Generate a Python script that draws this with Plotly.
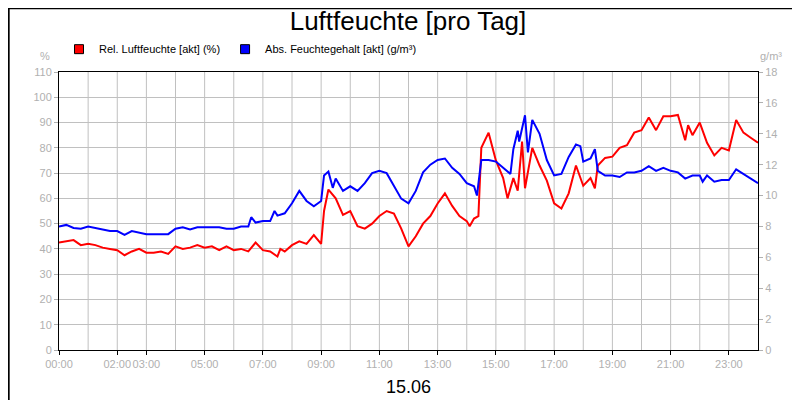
import plotly.graph_objects as go

# relative humidity (%), left axis
rel_t = [0, 0.25, 0.5, 0.75, 1.0, 1.25, 1.5, 1.75, 2.0, 2.25, 2.5, 2.75, 3.0, 3.25, 3.5, 3.75,
         4.0, 4.25, 4.5, 4.75, 5.0, 5.25, 5.5, 5.75, 6.0, 6.25, 6.5, 6.75, 7.0, 7.25, 7.5, 7.6,
         7.75, 8.0, 8.25, 8.5, 8.75, 9.0, 9.1, 9.25, 9.5, 9.75, 10.0, 10.25, 10.5, 10.75, 11.0,
         11.25, 11.5, 11.75, 12.0, 12.25, 12.5, 12.75, 13.0, 13.25, 13.5, 13.75, 14.0, 14.1,
         14.25, 14.4, 14.5, 14.75, 15.0, 15.25, 15.4, 15.6, 15.75, 15.9, 16.0, 16.25, 16.5,
         16.75, 17.0, 17.25, 17.5, 17.75, 18.0, 18.25, 18.4, 18.5, 18.75, 19.0, 19.25, 19.5,
         19.75, 20.0, 20.25, 20.5, 20.75, 21.0, 21.25, 21.5, 21.6, 21.75, 22.0, 22.25, 22.5,
         22.75, 23.0, 23.25, 23.5, 23.75, 24.0]
rel_v = [42.5, 43, 43.5, 41.5, 42, 41.5, 40.5, 40, 39.5, 37.5, 39, 40, 38.5, 38.5, 39, 38,
         41, 40, 40.5, 41.5, 40.5, 41, 39.5, 41, 39.5, 40, 39, 42.5, 39.5, 39, 37, 40,
         39, 41.5, 43, 42, 45.5, 42, 55, 63.5, 60, 53.5, 55, 49, 48, 50, 53,
         55, 54, 48, 41, 45, 50, 53, 58, 62, 57, 53, 51, 49,
         52, 53, 80, 86, 75, 68, 60, 68, 63, 82.5, 64, 80, 73,
         67, 58, 56, 62, 73, 65, 68, 64, 73, 76, 76.5, 80, 81,
         86, 87, 92, 87, 92.5, 92.5, 93, 83, 89, 85, 90, 82, 77,
         80, 79, 91, 86, 84, 82]

# absolute humidity (g/m³), right axis
abs_t = [0, 0.25, 0.5, 0.75, 1.0, 1.25, 1.5, 1.75, 2.0, 2.25, 2.5, 2.75, 3.0, 3.25, 3.5, 3.75,
         4.0, 4.25, 4.5, 4.75, 5.0, 5.25, 5.5, 5.75, 6.0, 6.25, 6.5, 6.6, 6.75, 7.0, 7.25, 7.4,
         7.5, 7.75, 8.0, 8.25, 8.5, 8.75, 9.0, 9.1, 9.25, 9.4, 9.5, 9.75, 10.0, 10.25, 10.5,
         10.75, 11.0, 11.25, 11.5, 11.75, 12.0, 12.25, 12.5, 12.75, 13.0, 13.25, 13.5, 13.75,
         14.0, 14.25, 14.35, 14.5, 14.75, 15.0, 15.25, 15.5, 15.6, 15.75, 15.8, 16.0, 16.1,
         16.25, 16.5, 16.75, 17.0, 17.25, 17.5, 17.75, 17.9, 18.0, 18.25, 18.4, 18.5, 18.75,
         19.0, 19.25, 19.5, 19.75, 20.0, 20.25, 20.5, 20.75, 21.0, 21.25, 21.5, 21.75, 22.0,
         22.1, 22.25, 22.5, 22.75, 23.0, 23.25, 23.5, 23.75, 24.0]
abs_v = [8.0, 8.1, 7.9, 7.85, 8.0, 7.9, 7.8, 7.7, 7.7, 7.45, 7.7, 7.6, 7.5, 7.5, 7.5, 7.5,
         7.85, 7.95, 7.8, 7.95, 7.95, 7.95, 7.95, 7.85, 7.85, 8.0, 8.0, 8.6, 8.25, 8.35, 8.35, 9.0,
         8.7, 8.85, 9.5, 10.3, 9.65, 9.3, 9.65, 11.3, 11.55, 10.5, 11.1, 10.3, 10.6, 10.3, 10.8,
         11.45, 11.6, 11.45, 10.6, 9.8, 9.5, 10.3, 11.5, 12.0, 12.3, 12.4, 11.8, 11.4,
         10.8, 10.6, 10.0, 12.3, 12.3, 12.2, 11.8, 11.4, 13.0, 14.2, 13.5, 15.2, 12.8,
         14.9, 14.0, 12.3, 11.3, 11.4, 12.5, 13.3, 13.2, 12.2, 12.4, 13.0, 11.6, 11.3,
         11.3, 11.2, 11.5, 11.5, 11.6, 11.9, 11.6, 11.8, 11.6, 11.5, 11.1, 11.3, 11.3,
         10.9, 11.3, 10.9, 11.0, 11.0, 11.7, 11.4, 11.1, 10.8]

tick_hours = [0, 2, 3, 5, 7, 9, 11, 13, 15, 17, 19, 21, 23]
tick_labels = ["00:00", "02:00", "03:00", "05:00", "07:00", "09:00", "11:00",
               "13:00", "15:00", "17:00", "19:00", "21:00", "23:00"]
left_ticks = list(range(0, 111, 10))
right_ticks = list(range(0, 19, 2))

RED = "#ff0000"
BLUE = "#0000ff"
GRID = "#c0c0c0"
TICKC = "#b0b0b0"

fig = go.Figure()
fig.add_trace(go.Scatter(x=rel_t, y=rel_v, mode="lines", line=dict(color=RED, width=2),
                         showlegend=False))
fig.add_trace(go.Scatter(x=abs_t, y=abs_v, mode="lines", line=dict(color=BLUE, width=2),
                         yaxis="y2", showlegend=False))
# legend entries with square markers
fig.add_trace(go.Scatter(x=[None], y=[None], mode="markers", name="Rel. Luftfeuchte [akt] (%)",
                         marker=dict(symbol="square", size=9, color=RED,
                                     line=dict(color="black", width=1))))
fig.add_trace(go.Scatter(x=[None], y=[None], mode="markers", name="Abs. Feuchtegehalt [akt] (g/m³)",
                         marker=dict(symbol="square", size=9, color=BLUE,
                                     line=dict(color="black", width=1))))

fig.update_layout(
    width=800, height=400,
    margin=dict(l=51, r=50, t=64, b=58, autoexpand=False),
    paper_bgcolor="white", plot_bgcolor="white",
    font=dict(family="Liberation Sans, Arial", size=11, color="black"),
    title=dict(text="Luftfeuchte [pro Tag]", x=0.5, xanchor="center", y=0.99, yanchor="top",
               font=dict(size=26, color="black")),
    xaxis=dict(range=[0, 24], tickmode="array", tickvals=tick_hours, ticktext=tick_labels,
               tickangle=0, automargin=False,
               showgrid=False, showline=True, linecolor="black", linewidth=1, mirror=True,
               ticks="outside", ticklen=4, tickcolor="black", zeroline=False,
               tickfont=dict(color=TICKC, size=11)),
    yaxis=dict(range=[0, 110], tickvals=left_ticks, gridcolor=GRID, showline=True,
               automargin=False,
               linecolor="black", linewidth=1, mirror=True, ticks="outside", ticklen=4,
               tickcolor=TICKC, zeroline=False, tickfont=dict(color=TICKC, size=11)),
    yaxis2=dict(range=[0, 18], tickvals=right_ticks, overlaying="y", side="right",
                automargin=False,
                showgrid=False, ticks="outside", ticklen=4, tickcolor=TICKC, zeroline=False,
                tickfont=dict(color=TICKC, size=11)),
    legend=dict(orientation="h", x=0.0, xanchor="left", y=1.03, yanchor="bottom",
                bgcolor="rgba(0,0,0,0)", font=dict(size=11, color="black"),
                itemwidth=30, tracegroupgap=0),
)

# vertical grid every hour
for h in range(1, 24):
    fig.add_shape(type="line", xref="x", yref="paper", x0=h, x1=h, y0=0, y1=1,
                  line=dict(color=GRID, width=1), layer="below")

fig.add_annotation(text="%", xref="paper", yref="paper", x=-0.01, y=1.03, xanchor="right",
                   yanchor="bottom", showarrow=False, font=dict(color=TICKC, size=11))
fig.add_annotation(text="g/m³", xref="paper", yref="paper", x=1.0, y=1.03, xanchor="left",
                   yanchor="bottom", showarrow=False, font=dict(color=TICKC, size=11))
fig.add_annotation(text="15.06", xref="paper", yref="paper", x=0.5, y=-0.09, xanchor="center",
                   yanchor="top", showarrow=False, font=dict(color="black", size=18))
# outer border
fig.add_shape(type="rect", xref="paper", yref="paper", x0=-0.072, x1=1.071, y0=-0.206, y1=1.229,
              line=dict(color="black", width=2))

fig.write_html("out.html")
